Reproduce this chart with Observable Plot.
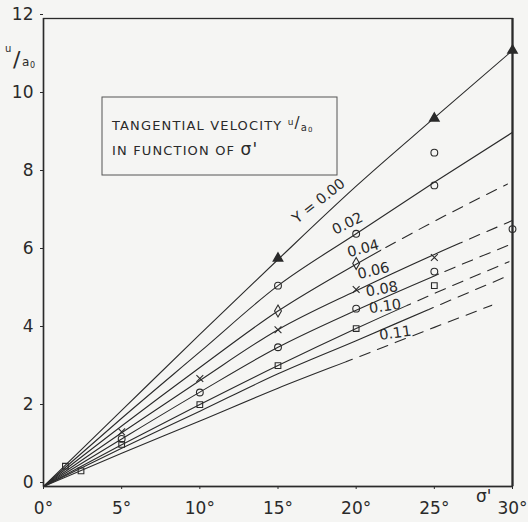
<!DOCTYPE html>
<html><head><meta charset="utf-8">
<script src="https://cdn.jsdelivr.net/npm/d3@7"></script>
<script src="https://cdn.jsdelivr.net/npm/@observablehq/plot@0.6"></script>
<style>
html,body{margin:0;padding:0;background:#f5f5f3;}
#chart{position:relative;width:528px;height:522px;overflow:hidden;}
</style></head><body><div id="chart"></div>
<script>
// ---- data ----
const degrees = [0, 5, 10, 15, 20, 25, 30];
const gammas = ["0.00", "0.02", "0.04", "0.06", "0.08", "0.10", "unlabelled", "0.11"];
const u_000 = [0, 1.95, 3.90, 5.82, 7.70, 9.45, 11.18];
const u_002 = [0, 1.75, 3.45, 5.15, 6.48, 7.80, 9.08];
const u_004 = [0, 1.55, 3.05, 4.50, 5.70, 6.80, 7.82];
const u_006 = [0, 1.38, 2.72, 4.02, 5.02, 5.95, 6.82];
const u_008 = [0, 1.22, 2.42, 3.57, 4.52, 5.40, 6.23];
const u_010 = [0, 1.07, 2.10, 3.10, 4.05, 4.95, 5.80];
const u_unl = [0, 0.98, 1.93, 2.89, 3.74, 4.60, 5.45];
const u_011 = [0, 0.85, 1.68, 2.52, 3.30, 4.08, 4.85];
const seriesU = [u_000, u_002, u_004, u_006, u_008, u_010, u_unl, u_011];
// angle (deg) where the curve turns from solid to dashed (extrapolated part), and where the dashes stop
const dashFrom = [null, null, 21.6, 26.7, 25.3, 23.2, 24.6, 19.3];
const dashTo   = [null, null, 29.7, 30, 29.8, 29.8, 29.5, 28.7];
const curveLabels = ["Y = 0.00", "0.02", "0.04", "0.06", "0.08", "0.10", "", "0.11"];

// measured points
const ptDeg   = [15, 25, 30,   15, 20, 25, 25,   15, 20,   10, 15, 20, 25,   10, 15, 20, 25, 30,   10, 15, 20, 25,   5, 5, 5,   1.4, 2.4];
const ptU     = [5.85, 9.44, 11.18,   5.15, 6.48, 8.56, 7.72,   4.50, 5.72,   2.77, 4.02, 5.05, 5.87,   2.41, 3.57, 4.56, 5.51, 6.60,   2.10, 3.10, 4.05, 5.15,   1.40, 1.22, 1.08,   0.52, 0.40];
const ptShape = ["triangle","triangle","triangle", "circle","circle","circle","circle", "diamond","diamond", "times","times","times","times", "circle","circle","circle","circle","circle", "square","square","square","square", "times","circle","square", "square","square"];

// ---- tables ----
const lineRows = [];
seriesU.forEach((arr, i) => arr.forEach((u, j) => lineRows.push({gamma: gammas[i], i, deg: degrees[j], u})));
const points = ptDeg.map((d, k) => ({deg: d, u: ptU[k], shape: ptShape[k]}));

// label placement (annotation layout)
const labelLayout = [[17.6, 7.32, -38], [19.45, 6.74, -27], [20.45, 6.10, -15], [21.1, 5.53, -13], [21.65, 5.06, -10], [21.85, 4.62, -8], null, [22.5, 3.93, -8]];
const labelRows = curveLabels.map((t, i) => t && labelLayout[i] ? {t, deg: labelLayout[i][0], u: labelLayout[i][1], r: labelLayout[i][2]} : null).filter(Boolean);

const ink = "#2a2a2a";
const bg = "#f5f5f3";
const dashedRows = lineRows.filter(d => dashFrom[d.i] != null);

const plot = Plot.plot({
  width: 528, height: 522,
  marginLeft: 43, marginRight: 16, marginTop: 18, marginBottom: 36,
  style: {fontFamily: "DejaVu Sans", fontSize: "17px", background: bg, color: ink},
  x: {domain: [0, 30]},
  y: {domain: [0, 12]},
  marks: [
    Plot.frame({stroke: ink, strokeWidth: 1.3}),
    Plot.ruleX([30], {stroke: ink, strokeWidth: 2.2}),
    Plot.ruleY([0], {stroke: ink, strokeWidth: 1.6}),
    Plot.ruleX([0], {stroke: ink, strokeWidth: 1.4}),
    Plot.axisY({ticks: [0, 2, 4, 6, 8, 10, 12], tickSize: 3, tickPadding: 7, dy: -4, label: null, fill: ink}),
    Plot.axisX({ticks: [0, 5, 10, 15, 20, 25, 30], tickSize: 3, tickPadding: 12, tickFormat: d => d + "°", label: null, fill: ink}),
    Plot.line(lineRows, {x: "deg", y: "u", z: "gamma", curve: "monotone-x", stroke: ink, strokeWidth: 1.1, ariaDescription: "solid-curves"}),
    Plot.line(dashedRows, {x: "deg", y: "u", z: "gamma", curve: "monotone-x", stroke: ink, strokeWidth: 1.1, strokeDasharray: "11,8", ariaDescription: "dashed-curves"}),
    Plot.dot(points.filter(d => d.shape === "triangle"), {x: "deg", y: "u", symbol: "triangle", r: 3.4, fill: ink, stroke: ink}),
    Plot.dot(points.filter(d => d.shape === "circle"), {x: "deg", y: "u", symbol: "circle", r: 3.4, fill: "none", stroke: ink, strokeWidth: 1.1}),
    Plot.dot(points.filter(d => d.shape === "diamond"), {x: "deg", y: "u", symbol: "diamond", r: 3.6, fill: "none", stroke: ink, strokeWidth: 1.1}),
    Plot.dot(points.filter(d => d.shape === "times"), {x: "deg", y: "u", symbol: "times", r: 3.2, fill: "none", stroke: ink, strokeWidth: 1.1}),
    Plot.dot(points.filter(d => d.shape === "square"), {x: "deg", y: "u", symbol: "square", r: 3.2, fill: "none", stroke: ink, strokeWidth: 1.1}),
    Plot.text(labelRows, {x: "deg", y: "u", text: "t", rotate: "r", fontSize: 14.5, fill: ink, textAnchor: "middle"})
  ]
});

document.getElementById("chart").appendChild(plot);

// ---- split curves into solid / dashed with clip paths ----
const xs = plot.scale("x");
const svg = d3.select(plot);
const defs = svg.append("defs");
const withDash = gammas.map((g, i) => i).filter(i => dashFrom[i] != null);
svg.selectAll('g[aria-description="solid-curves"] path').each(function(_, k) {
  const i = k; // one path per series in data order
  if (dashFrom[i] == null) return;
  const id = "clipS" + i;
  defs.append("clipPath").attr("id", id).append("rect")
    .attr("x", 0).attr("y", 0).attr("width", xs.apply(dashFrom[i])).attr("height", 522);
  d3.select(this).attr("clip-path", `url(#${id})`);
});
svg.selectAll('g[aria-description="dashed-curves"] path').each(function(_, k) {
  const i = withDash[k];
  const id = "clipD" + i;
  const x0 = xs.apply(dashFrom[i]), x1 = xs.apply(dashTo[i]);
  defs.append("clipPath").attr("id", id).append("rect")
    .attr("x", x0).attr("y", 0).attr("width", x1 - x0).attr("height", 522);
  d3.select(this).attr("clip-path", `url(#${id})`);
});

// ---- annotations: axis titles and caption box ----
const fam = "DejaVu Sans";
const yl = svg.append("text").attr("fill", ink).attr("font-family", fam).attr("text-anchor", "start");
yl.append("tspan").attr("x", 5).attr("y", 52).attr("font-size", 10).text("u");
yl.append("tspan").attr("x", 13).attr("y", 67).attr("font-size", 22).text("/");
yl.append("tspan").attr("x", 22).attr("y", 66).attr("font-size", 12).text("a");
yl.append("tspan").attr("x", 30).attr("y", 68).attr("font-size", 8).text("0");

svg.append("text").attr("x", 476).attr("y", 502).attr("font-family", fam).attr("font-size", 17)
  .attr("text-anchor", "start").attr("fill", ink).text("σ'");

const box = svg.append("g").attr("text-anchor", "start");
box.append("rect").attr("x", 102).attr("y", 97).attr("width", 235).attr("height", 78)
  .attr("fill", "none").attr("stroke", "#555").attr("stroke-width", 1);
const t1 = box.append("text").attr("x", 112).attr("y", 130).attr("font-family", fam).attr("font-size", 13).attr("letter-spacing", 1.15).attr("fill", ink);
t1.append("tspan").text("TANGENTIAL VELOCITY ");
t1.append("tspan").attr("font-size", 9).attr("dy", -5).text("u");
t1.append("tspan").attr("font-size", 15).attr("dy", 3).text("/");
t1.append("tspan").attr("font-size", 10).attr("dy", 3).text("a");
t1.append("tspan").attr("font-size", 7).attr("dy", 1).text("0");
const t2 = box.append("text").attr("x", 112).attr("y", 155).attr("font-family", fam).attr("font-size", 13).attr("letter-spacing", 1.15).attr("fill", ink);
t2.append("tspan").text("IN FUNCTION OF ");
t2.append("tspan").attr("font-size", 17).text("σ'");
</script>
</body></html>
